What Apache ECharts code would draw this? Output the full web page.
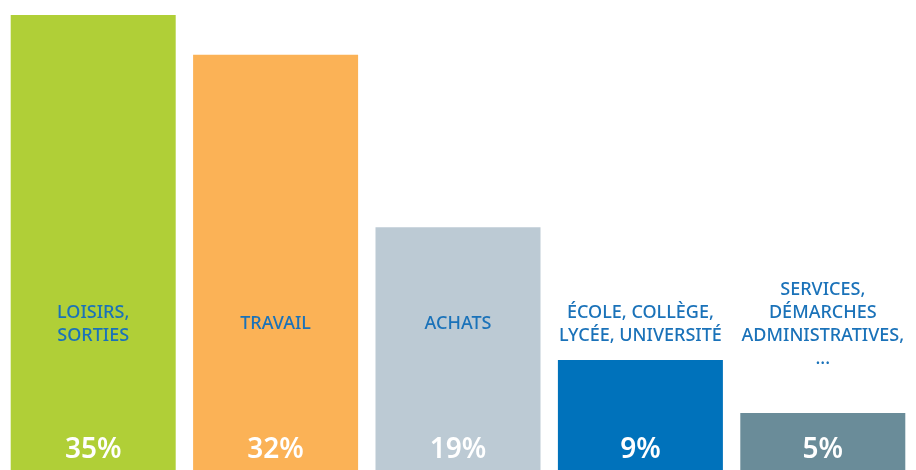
<!DOCTYPE html>
<html>
<head>
<meta charset="utf-8">
<script src="https://cdn.jsdelivr.net/npm/echarts@6/dist/echarts.min.js"></script>
<style>
html,body{margin:0;padding:0;background:#fff;}
#chart{width:916px;height:470px;}
</style>
</head>
<body>
<div id="chart"></div>
<script>
const categories = [
  "LOISIRS,\nSORTIES",
  "TRAVAIL",
  "ACHATS",
  "ÉCOLE, COLLÈGE,\nLYCÉE, UNIVERSITÉ",
  "SERVICES,\nDÉMARCHES\nADMINISTRATIVES,\n..."
];
const values = [35, 32, 19, 9, 5];
const colors = ["#b0cf37", "#fbb256", "#bccad4", "#0072bb", "#6a8c99"];

const chart = echarts.init(document.getElementById('chart'), null, {renderer: 'canvas'});
chart.setOption({
  animation: false,
  grid: {left: 2, right: 2, top: 15, bottom: 0, containLabel: false},
  xAxis: {
    type: 'category',
    data: categories,
    z: 10,
    axisLine: {show: false},
    axisTick: {show: false},
    axisLabel: {
      margin: -146,
      verticalAlign: 'middle',
      color: '#1a72b9',
      fontFamily: 'Noto Sans',
      fontWeight: 500,
      fontSize: 18,
      lineHeight: 23,
      interval: 0
    }
  },
  yAxis: {
    type: 'value',
    min: 0.7,
    max: 35,
    show: false,
    splitLine: {show: false}
  },
  series: [{
    type: 'bar',
    data: values.map((v, i) => ({value: v, itemStyle: {color: colors[i]}})),
    barWidth: 165,
    clip: false,
    label: {
      show: true,
      position: 'insideBottom',
      distance: 15,
      color: '#ffffff',
      fontFamily: 'Noto Sans',
      fontWeight: 600,
      fontSize: 28,
      formatter: p => p.value + '%'
    }
  }]
});
</script>
</body>
</html>
